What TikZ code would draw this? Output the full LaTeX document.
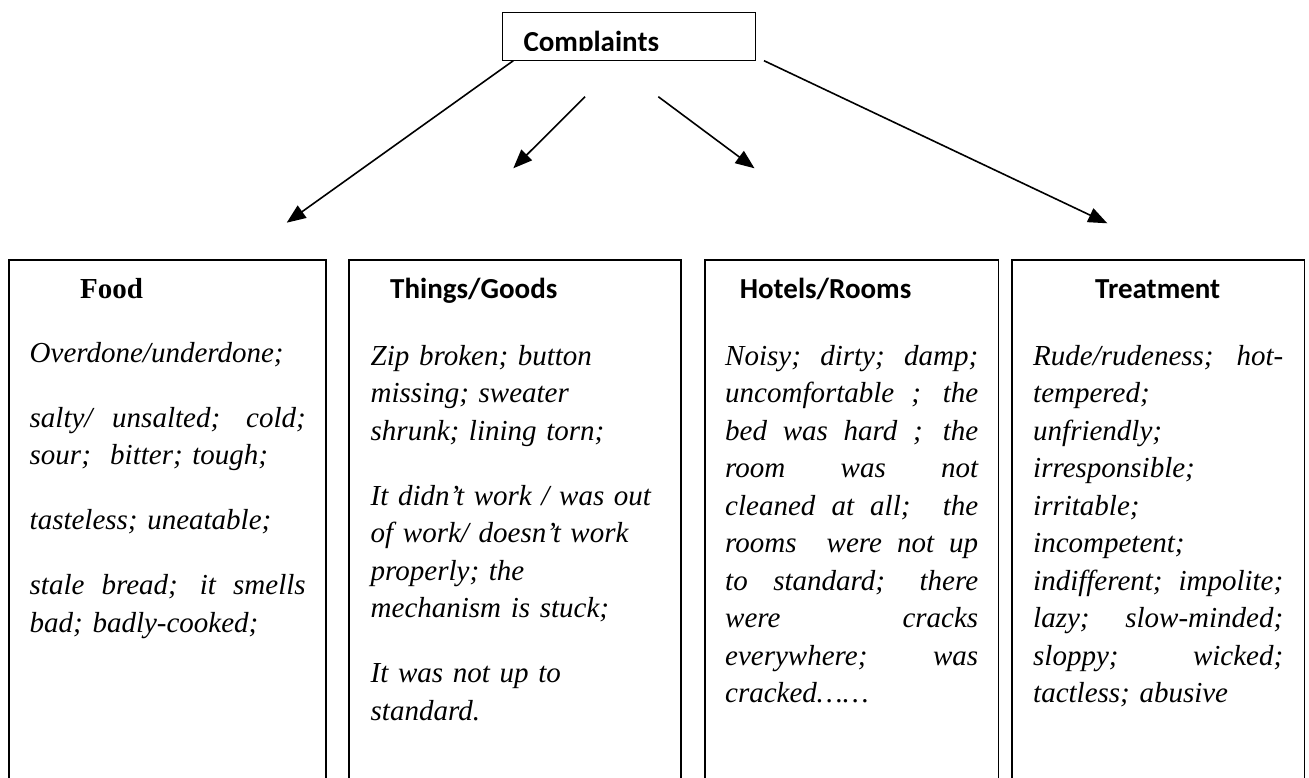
\documentclass[tikz,border=0pt]{standalone}
\usepackage{fontspec}
\setmainfont{Liberation Serif}
\newfontfamily\calibrifont{Carlito}
\usetikzlibrary{arrows.meta}
\newcommand\jl[2]{\makebox[#1][s]{\spaceskip=0pt\xspaceskip=0pt\relax #2}}
\begin{document}
\begin{tikzpicture}[x=1pt,y=-1pt,
  panel/.style={draw, line width=1.8pt, inner sep=0pt, outer sep=0pt, anchor=north west, minimum height=540pt},
  topbox/.style={draw, line width=1.4pt, inner sep=0pt, outer sep=0pt, anchor=north west},
  ttlserif/.style={anchor=base west, inner sep=0pt, font=\fontsize{29}{35}\selectfont\bfseries},
  ttlsans/.style={anchor=base west, inner sep=0pt, font=\fontsize{29}{35}\selectfont\calibrifont\bfseries},
  body/.style={anchor=north west, inner sep=0pt, align=left, font=\fontsize{29}{37.5}\selectfont\itshape},
  conn/.style={line width=1.6pt, -{Triangle[length=19pt,width=15pt]}}
]
\useasboundingbox (0,0) rectangle (1309,778);
\clip (0,0) rectangle (1309,778);
\fill[white] (0,0) rectangle (1309,778);

% top box
\node[topbox, minimum width=252.6pt, minimum height=48pt] (comp) at (502.7,12.7) {};
\begin{scope}
  \clip (502.7,12.7) rectangle (755.3,51);
  \node[ttlsans] (comptxt) at (523.3,51.5) {Complaints};
\end{scope}

% panels
\node[panel, minimum width=316.7pt] (food) at (9.3,260) {};
\node[panel, minimum width=331.4pt] (things) at (349.3,260) {};
\node[panel, minimum width=293.5pt] (hotels) at (705,260) {};
\node[panel, minimum width=292.5pt] (treat) at (1012,260) {};

% titles
\node[ttlserif] (foodttl) at (80,298.3) {Food};
\node[ttlsans] (thingsttl) at (390,298.3) {Things/Goods};
\node[ttlsans] (hotelsttl) at (739.6,298.3) {Hotels/Rooms};
\node[ttlsans] (treatttl) at (1095,298.3) {Treatment};

% body texts
\node[body, text width=276pt] (foodtxt) at (29.5,335.75) {%
\strut Overdone/underdone;\\[27.5pt]
\jl{276pt}{salty/ unsalted; cold;}\\
sour;\ \ bitter; tough;\\[27.5pt]
tasteless; uneatable;\\[27.5pt]
\jl{276pt}{stale bread; it smells}\\
bad; badly-cooked;};

\node[body, text width=300pt] (thingstxt) at (370.5,338.75) {%
\strut Zip broken; button\\
missing; sweater\\
shrunk; lining torn;\\[27.5pt]
It didn’t work / was out\\
of work/ doesn’t work\\
properly; the\\
mechanism is stuck;\\[27.5pt]
It was not up to\\
standard.};

\node[body, text width=253pt] (hotelstxt) at (725,338.75) {%
\strut\jl{253pt}{Noisy; dirty; damp;}\\
\jl{253pt}{uncomfortable ; the}\\
\jl{253pt}{bed was hard ; the}\\
\jl{253pt}{room was not}\\
\jl{253pt}{cleaned at all;\ \ the}\\
\jl{253pt}{rooms\ \ were not up}\\
\jl{253pt}{to standard; there}\\
\jl{253pt}{were cracks}\\
\jl{253pt}{everywhere; was}\\
cracked……};

\node[body, text width=250pt] (treattxt) at (1033,338.75) {%
\strut\jl{250pt}{Rude/rudeness; hot-}\\
tempered;\\
unfriendly;\\
irresponsible;\\
irritable;\\
incompetent;\\
\jl{250pt}{indifferent; impolite;}\\
\jl{250pt}{lazy; slow-minded;}\\
\jl{250pt}{sloppy; wicked;}\\
tactless; abusive};

% connectors
\coordinate (a1s) at (513.3,60.7);
\coordinate (a1e) at (286.7,222.7);
\coordinate (a2s) at (585,96.7);
\coordinate (a2e) at (513.3,168.3);
\coordinate (a3s) at (658.3,96.7);
\coordinate (a3e) at (754.5,168.3);
\coordinate (a4s) at (764,60.7);
\coordinate (a4e) at (1107.3,223.3);
\draw[conn] (a1s) -- (a1e);
\draw[conn] (a2s) -- (a2e);
\draw[conn] (a3s) -- (a3e);
\draw[conn] (a4s) -- (a4e);
\end{tikzpicture}
\end{document}
